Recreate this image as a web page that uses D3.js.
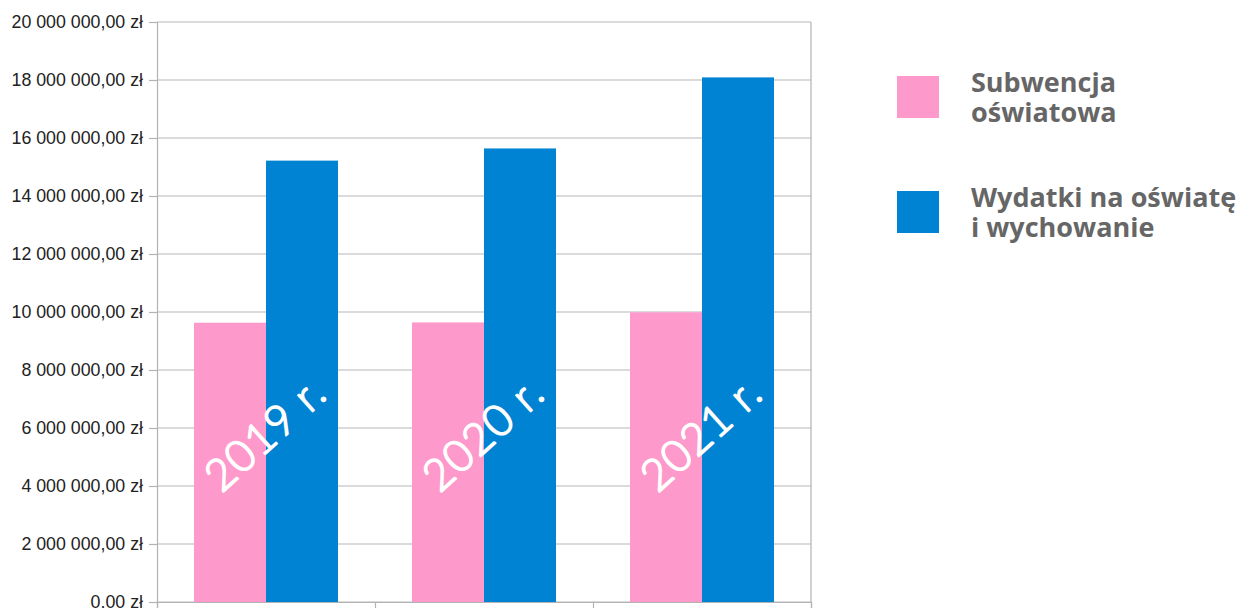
<!DOCTYPE html>
<html>
<head>
<meta charset="utf-8">
<script src="https://cdn.jsdelivr.net/npm/d3@7"></script>
<style>
  body { margin: 0; background: #fff; }
  svg { display: block; }
</style>
</head>
<body>
<div id="chart"></div>
<script>
// data
const years = ["2019", "2020", "2021"];
const seriesNames = ["Subwencja oświatowa", "Wydatki na oświatę i wychowanie"];
const subwencja = [9630000, 9640000, 9990000];
const wydatki = [15220000, 15640000, 18090000];
const yTicks = [0, 2000000, 4000000, 6000000, 8000000, 10000000, 12000000, 14000000, 16000000, 18000000, 20000000];
const yearLabels = ["2019 r.", "2020 r.", "2021 r."];
const legendLines = [["Subwencja", "oświatowa"], ["Wydatki na oświatę", "i wychowanie"]];

const colors = ["#fd99cb", "#0083d2"];

const width = 1253, height = 608;
const plotLeft = 157, plotRight = 811, plotTop = 22, plotBottom = 602;

const svg = d3.select("#chart").append("svg")
  .attr("width", width)
  .attr("height", height);

const x = d3.scaleBand()
  .domain(years)
  .range([plotLeft, plotRight]);

const inner = d3.scaleBand()
  .domain([0, 1])
  .range([0, x.bandwidth()])
  .paddingInner(0)
  .paddingOuter(0.514);

const y = d3.scaleLinear()
  .domain([0, 20000000])
  .range([plotBottom, plotTop]);

const fmt = v => {
  const s = d3.format(",.2f")(v).replace(/,/g, " ").replace(".", ",");
  return s + " zł";
};

// gridlines
svg.append("g")
  .selectAll("line")
  .data(yTicks)
  .enter()
  .append("line")
  .attr("x1", plotLeft)
  .attr("x2", plotRight)
  .attr("y1", d => y(d))
  .attr("y2", d => y(d))
  .attr("stroke", "#b8b8b8")
  .attr("stroke-width", 1.2);

// bars
const groups = svg.append("g")
  .selectAll("g")
  .data(years)
  .enter()
  .append("g")
  .attr("transform", d => "translate(" + x(d) + ",0)");

groups.selectAll("rect")
  .data((d, i) => [subwencja[i], wydatki[i]])
  .enter()
  .append("rect")
  .attr("x", (d, j) => inner(j))
  .attr("width", inner.bandwidth())
  .attr("y", d => y(d))
  .attr("height", d => y(0) - y(d))
  .attr("fill", (d, j) => colors[j]);

// y axis
const yAxis = svg.append("g")
  .attr("transform", "translate(" + plotLeft + ",0)")
  .call(d3.axisLeft(y).tickValues(yTicks).tickFormat(fmt).tickSize(8).tickPadding(6));
yAxis.selectAll("line").attr("stroke", "#b3b3b3").attr("stroke-width", 1.2);
yAxis.select(".domain").attr("stroke", "#b3b3b3").attr("stroke-width", 1.2);
yAxis.selectAll("text")
  .attr("font-family", "'Liberation Sans', Arial, sans-serif")
  .attr("font-size", 17.8)
  .attr("fill", "#222");

// x axis (ticks at band boundaries, no labels)
const xb = d3.scaleLinear().domain([0, years.length]).range([plotLeft, plotRight]);
const xAxis = svg.append("g")
  .attr("transform", "translate(0," + plotBottom + ")")
  .call(d3.axisBottom(xb).tickValues(d3.range(years.length + 1)).tickFormat("").tickSize(8));
xAxis.selectAll("line").attr("stroke", "#b3b3b3").attr("stroke-width", 1.2);
xAxis.select(".domain").attr("stroke", "#b3b3b3").attr("stroke-width", 1.2);

// right frame
svg.append("line")
  .attr("x1", plotRight).attr("x2", plotRight)
  .attr("y1", plotTop).attr("y2", plotBottom)
  .attr("stroke", "#b3b3b3")
  .attr("stroke-width", 1.2);

// hand-written year labels, centred on each category
svg.append("g")
  .selectAll("text")
  .data(yearLabels)
  .enter()
  .append("text")
  .attr("transform", (d, i) => "translate(" + (x(years[i]) + x.bandwidth() / 2 + 2) + ",437) rotate(-42)")
  .attr("text-anchor", "middle")
  .attr("dominant-baseline", "middle")
  .attr("font-family", "Lato, 'Open Sans', sans-serif")
  .attr("font-weight", 300)
  .attr("font-size", 44)
  .attr("letter-spacing", 1)
  .attr("fill", "#fff")
  .attr("stroke", "#fff")
  .attr("stroke-width", 1.6)
  .attr("stroke-linejoin", "round")
  .text(d => d);

// legend
const legend = svg.append("g")
  .selectAll("g")
  .data(seriesNames)
  .enter()
  .append("g")
  .attr("transform", (d, i) => "translate(897," + (76 + i * 115) + ")");

legend.append("rect")
  .attr("width", 42)
  .attr("height", 42)
  .attr("fill", (d, i) => colors[i]);

legend.append("text")
  .attr("x", 74)
  .attr("font-family", "'Open Sans', Lato, sans-serif")
  .attr("font-weight", 700)
  .attr("font-size", 27)
  .attr("fill", "#666")
  .selectAll("tspan")
  .data((d, i) => legendLines[i])
  .enter()
  .append("tspan")
  .attr("x", 74)
  .attr("y", (d, k) => 16 + k * 30)
  .text(d => d);
</script>
</body>
</html>
